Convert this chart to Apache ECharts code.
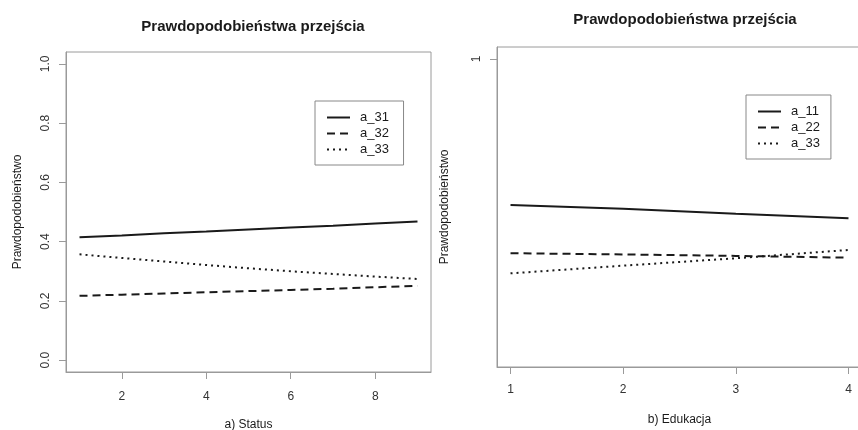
<!DOCTYPE html>
<html>
<head>
<meta charset="utf-8">
<script src="https://cdn.jsdelivr.net/npm/echarts@6/dist/echarts.min.js"></script>
<style>
  html, body { margin: 0; padding: 0; background: #fff; }
  #chart { width: 858px; height: 430px; }
</style>
</head>
<body>
<div id="chart"></div>
<script>
// dane
const statusX = [1, 2, 3, 4, 5, 6, 7, 8, 9];
const a31 = [0.415, 0.421, 0.428, 0.434, 0.441, 0.448, 0.454, 0.461, 0.468];
const a32 = [0.217, 0.221, 0.225, 0.229, 0.233, 0.237, 0.241, 0.246, 0.251];
const a33s = [0.357, 0.345, 0.333, 0.321, 0.310, 0.300, 0.291, 0.282, 0.274];

const eduX = [1, 2, 3, 4];
const a11 = [0.507, 0.494, 0.477, 0.462];
const a22 = [0.344, 0.340, 0.335, 0.329];
const a33e = [0.276, 0.302, 0.327, 0.355];

const statusTicks = [2, 4, 6, 8];
const probTicks = [0, 0.2, 0.4, 0.6, 0.8, 1.0];
const eduTicks = [1, 2, 3, 4];
const eduProbTicks = [1];

const TITLE = "Prawdopodobieństwa przejścia";
const FONT = "Liberation Sans, Arial, sans-serif";
const AXIS_GRAY = "#9a9a9a";
const INK = "#1a1a1a";

const pairs = (xs, ys) => xs.map((x, i) => [x, ys[i]]);

const solid = { color: INK, width: 2, type: "solid" };
const dashed = { color: INK, width: 2, type: [8, 5] };
const dotted = { color: INK, width: 2, type: [2, 4] };

function lineSeries(name, idx, data, style) {
  return {
    name: name,
    type: "line",
    xAxisIndex: idx,
    yAxisIndex: idx,
    data: data,
    showSymbol: false,
    symbol: "none",
    lineStyle: style,
    itemStyle: { color: INK },
    animation: false,
  };
}

function xAxisFor(idx, min, max, ticks, name, margin) {
  return {
    type: "value",
    gridIndex: idx,
    min: min,
    max: max,
    name: name,
    nameLocation: "middle",
    nameGap: 47,
    nameTextStyle: { fontFamily: FONT, fontSize: 12, color: INK },
    splitLine: { show: false },
    axisLine: { show: true, onZero: false, lineStyle: { color: AXIS_GRAY } },
    axisTick: { show: true, length: 7, customValues: ticks, lineStyle: { color: AXIS_GRAY } },
    axisLabel: { customValues: ticks, margin: margin, fontFamily: FONT, fontSize: 12, color: "#333" },
  };
}

function yAxisFor(idx, ticks, fmt, nameGap) {
  return {
    type: "value",
    gridIndex: idx,
    min: -0.04,
    max: 1.04,
    name: "Prawdopodobieństwo",
    nameLocation: "middle",
    nameGap: nameGap,
    nameTextStyle: { fontFamily: FONT, fontSize: 12, color: INK },
    splitLine: { show: false },
    axisLine: { show: true, onZero: false, lineStyle: { color: AXIS_GRAY } },
    axisTick: { show: true, length: 7, customValues: ticks, lineStyle: { color: AXIS_GRAY } },
    axisLabel: {
      customValues: ticks, rotate: 90, margin: 14,
      fontFamily: FONT, fontSize: 12, color: "#333",
      formatter: fmt,
    },
  };
}

function legendFor(names, left, top) {
  return {
    data: names,
    orient: "vertical",
    left: left,
    top: top,
    borderColor: "#888",
    borderWidth: 1,
    padding: [10, 11, 9, 11],
    itemWidth: 23,
    itemHeight: 12,
    itemGap: 3,
    itemStyle: { opacity: 0 },
    textStyle: { fontFamily: FONT, fontSize: 13, color: INK, padding: [0, 0, 0, 5] },
    selectedMode: false,
  };
}

const chart = echarts.init(document.getElementById("chart"), null, { renderer: "canvas" });

chart.setOption({
  backgroundColor: "#fff",
  animation: false,
  title: [
    { text: TITLE, left: 248, top: 14, textAlign: "center",
      textStyle: { fontFamily: FONT, fontSize: 15, fontWeight: "bold", color: INK } },
    { text: TITLE, left: 680, top: 7, textAlign: "center",
      textStyle: { fontFamily: FONT, fontSize: 15, fontWeight: "bold", color: INK } },
  ],
  legend: [
    legendFor(["a_31", "a_32", "a_33 "], 315, 101),
    legendFor(["a_11", "a_22", "a_33"], 746, 95),
  ],
  grid: [
    { left: 66, top: 52, width: 365, height: 320, show: true, borderColor: AXIS_GRAY, borderWidth: 1, outerBoundsMode: "none" },
    { left: 497, top: 47, width: 365, height: 320, show: true, borderColor: AXIS_GRAY, borderWidth: 1, outerBoundsMode: "none" },
  ],
  xAxis: [
    xAxisFor(0, 0.68, 9.32, statusTicks, "a) Status", 19),
    xAxisFor(1, 0.88, 4.12, eduTicks, "b) Edukacja", 17),
  ],
  yAxis: [
    yAxisFor(0, probTicks, (v) => v.toFixed(1), 42),
    yAxisFor(1, eduProbTicks, (v) => String(Math.round(v)), 46),
  ],
  series: [
    lineSeries("a_31", 0, pairs(statusX, a31), solid),
    lineSeries("a_32", 0, pairs(statusX, a32), dashed),
    lineSeries("a_33 ", 0, pairs(statusX, a33s), dotted),
    lineSeries("a_11", 1, pairs(eduX, a11), solid),
    lineSeries("a_22", 1, pairs(eduX, a22), dashed),
    lineSeries("a_33", 1, pairs(eduX, a33e), dotted),
  ],
});
</script>
</body>
</html>
